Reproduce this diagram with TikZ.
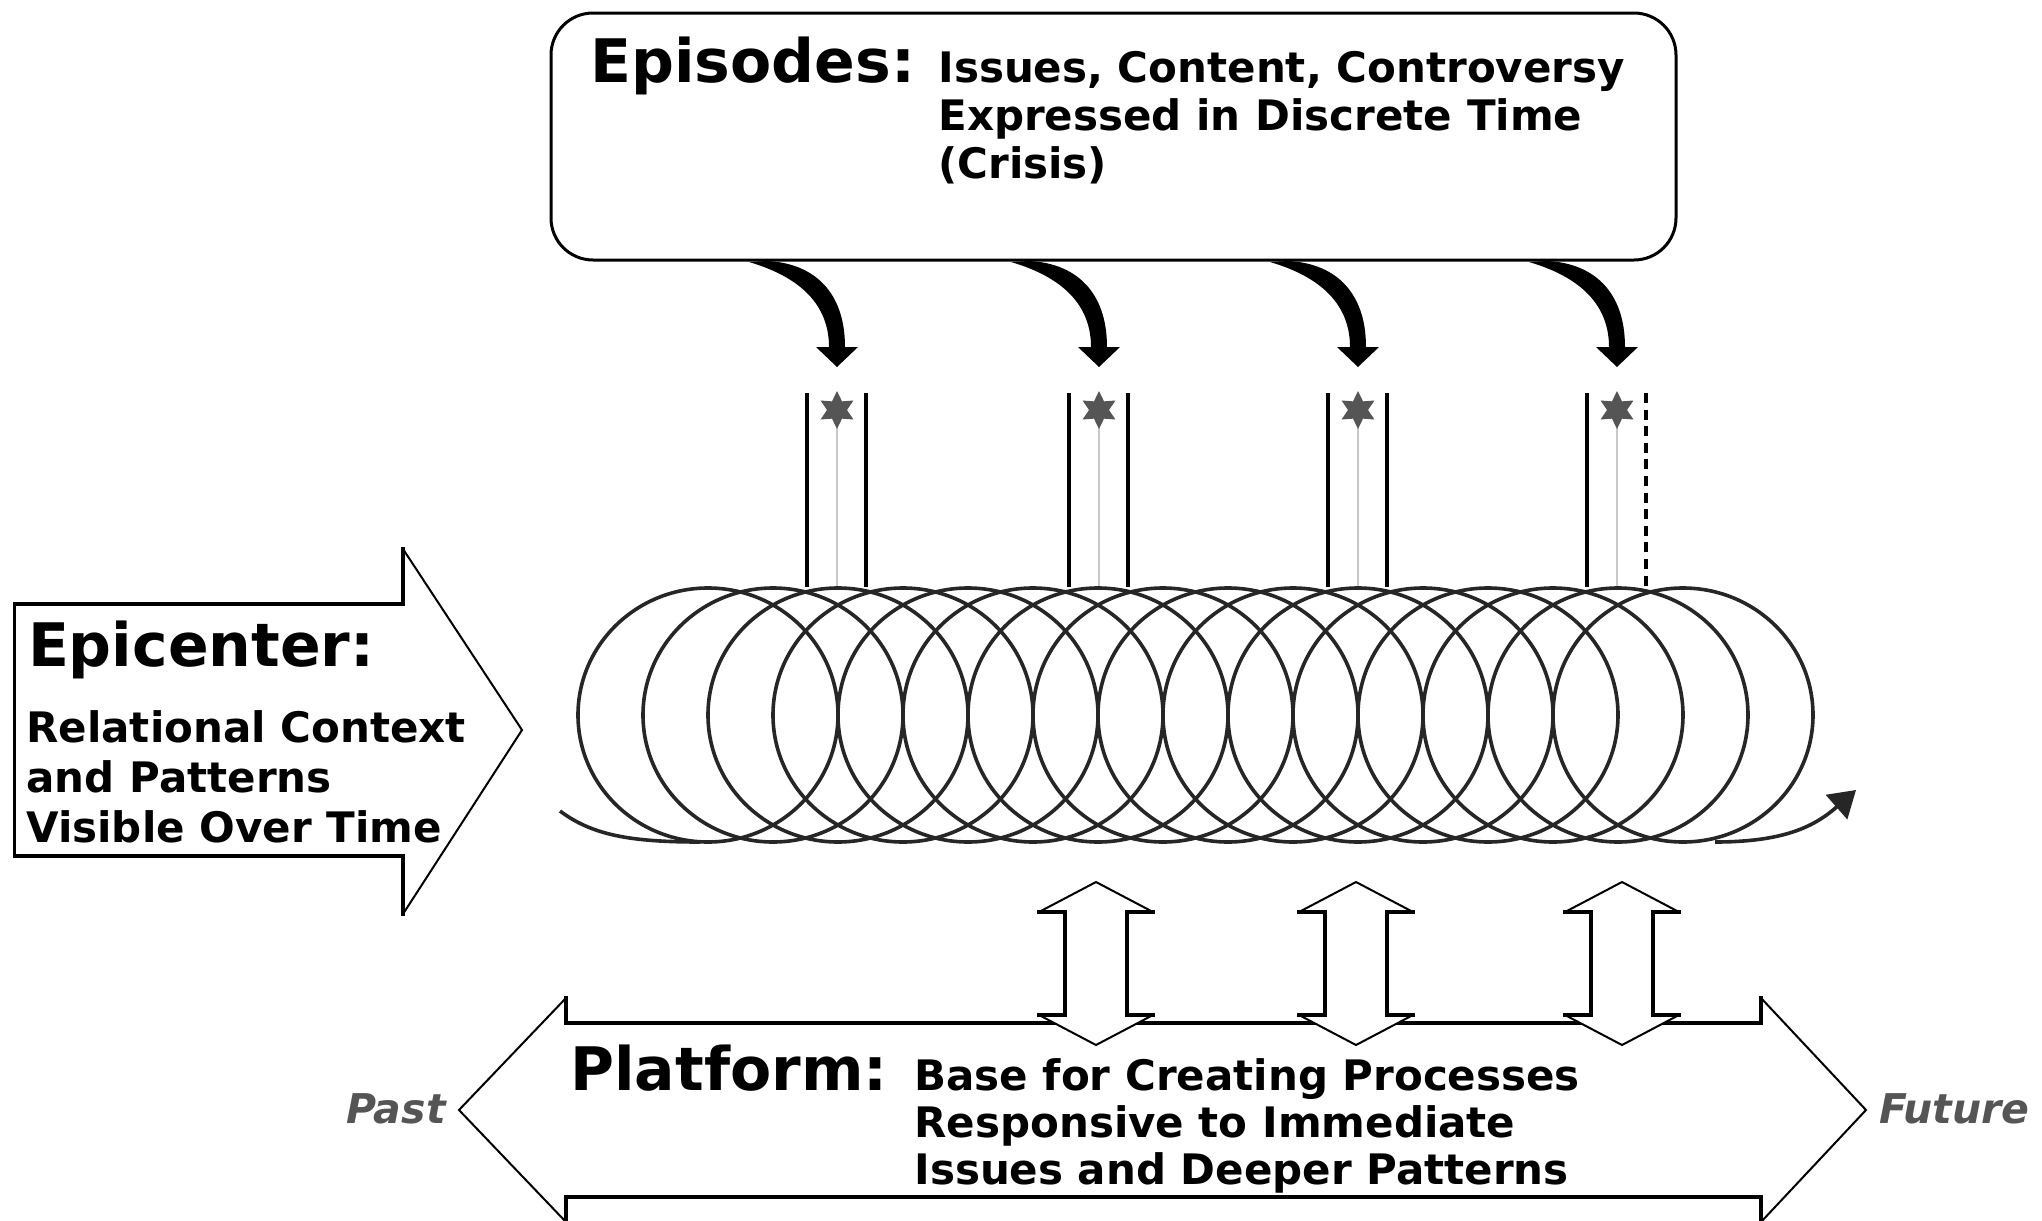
\documentclass[tikz,border=0pt]{standalone}
\usepackage{fontspec}
\setmainfont{DejaVu Sans}
\usetikzlibrary{shapes.geometric,arrows.meta,calc}
\definecolor{stargray}{RGB}{85,85,85}
\definecolor{lightline}{RGB}{200,200,200}
\definecolor{labelgray}{RGB}{85,85,85}
\begin{document}
\begin{tikzpicture}[x=0.5pt,y=-0.5pt,
  thickedge/.style={draw=black,line width=1.6pt,line join=miter,line cap=rect},
  thinedge/.style={draw=black,line width=1pt},
  headfont/.style={font=\fontsize{30pt}{36pt}\selectfont\bfseries},
  txt/.style={inner sep=0pt, anchor=base west, align=left},
  coil/.style={draw=black!85, line width=1.8pt},
  column/.style={draw=black, line width=1.6pt},
  midline/.style={draw=lightline, line width=1.3pt},
  spark/.style={star, star points=6, star point ratio=1.9, fill=stargray, draw=none, minimum size=19pt, inner sep=0pt},
  timefont/.style={font=\fontsize{20.5pt}{24pt}\selectfont\bfseries\itshape, text=labelgray, inner sep=0pt},
]
\useasboundingbox (0,0) rectangle (2042,1221);

% ---------- Episodes box ----------
\node[draw, line width=1.5pt, rounded corners=21pt, minimum width=562.5pt,
      minimum height=123.5pt, inner sep=0pt] (episodes) at (1113.5,136.5) {};
\node[txt, headfont] (eptitle) at (590,82) {Episodes:};
% base anchor of a multi-line node = baseline of its last line
\node[txt, font=\fontsize{21pt}{24pt}\selectfont\bfseries] (eptext) at (938,178)
  {Issues, Content, Controversy\\Expressed in Discrete Time\\(Crisis)};

% ---------- curved arrows, columns, sparks ----------
\foreach \T/\n in {837/1,1099/2,1358/3,1617/4}{
  \begin{scope}[shift={(\T,0)}]
    \fill (-70,261) .. controls (-25,263) and (8,290) .. (8,347)
       -- (21,347) -- (0,367) -- (-21,347) -- (-8,347)
       .. controls (-8,310) and (-30,279) .. (-88,262) -- cycle;
  \end{scope}
  \coordinate (top\n) at (\T,420);
  \coordinate (bot\n) at (\T,587);
  \draw[midline] (top\n) -- (bot\n);
  \node[spark] (s\n) at (\T,410) {};
  \draw[column] (\T-30,393) -- (\T-30,587);
}
\foreach \T in {837,1099,1358}{
  \draw[column] (\T+29,393) -- (\T+29,587);
}
\draw[column, dash pattern=on 5pt off 3.3pt] (1646,393) -- (1646,587);

% ---------- coil ----------
\foreach \k in {0,...,15}{
  \draw[coil] (708+65*\k,715) ellipse [x radius=65pt, y radius=63.5pt];
}
\draw[coil] (560,811) .. controls (592,835) and (630,842) .. (700,842);
\draw[coil, -{Triangle[length=13pt,width=16pt]}] (1715,842) .. controls (1785,842) and (1815,826) .. (1856,790);

% ---------- Epicenter arrow ----------
\path[fill=white] (14.5,604) -- (403,604) -- (403,549) -- (522,730) -- (403,914) -- (403,856) -- (14.5,856) -- cycle;
\draw[thickedge] (403,549) -- (403,604) -- (14.5,604) -- (14.5,856) -- (403,856) -- (403,914);
\draw[thinedge] (403,549) -- (522,730) -- (403,914);
\node[txt, headfont] (ectitle) at (27.6,666) {Epicenter:};
\node[txt, font=\fontsize{21pt}{25pt}\selectfont\bfseries] (ectext) at (26,842)
  {Relational Context\\and Patterns\\Visible Over Time};

% ---------- Platform double arrow ----------
\path[fill=white] (459,1110) -- (566,998) -- (566,1023) -- (1761,1023) -- (1761,998) -- (1866,1110)
   -- (1761,1222) -- (1761,1197) -- (566,1197) -- (566,1222) -- cycle;
\draw[thickedge] (566,998) -- (566,1023) -- (1761,1023) -- (1761,998);
\draw[thickedge] (566,1222) -- (566,1197) -- (1761,1197) -- (1761,1222);
\draw[thinedge] (566,998) -- (459,1110) -- (566,1222);
\draw[thinedge] (1761,998) -- (1866,1110) -- (1761,1222);
\node[txt, headfont] (pltitle) at (570,1090) {Platform:};
\node[txt, font=\fontsize{21pt}{23.5pt}\selectfont\bfseries] (pltext) at (914,1184)
  {Base for Creating Processes\\Responsive to Immediate\\Issues and Deeper Patterns};
\node[timefont, anchor=base east] (past) at (446,1123) {Past};
\node[timefont, anchor=base west] (future) at (1879,1123) {Future};

% ---------- double vertical arrows ----------
\foreach \C/\n in {1096/1,1356/2,1622/3}{
  \begin{scope}[shift={(\C,0)}]
    \path[fill=white] (0,882) -- (57,912) -- (31,912) -- (31,1015) -- (57,1015) -- (0,1045)
       -- (-57,1015) -- (-31,1015) -- (-31,912) -- (-57,912) -- cycle;
    \draw[thickedge] (57,912) -- (31,912) -- (31,1015) -- (57,1015);
    \draw[thickedge] (-57,912) -- (-31,912) -- (-31,1015) -- (-57,1015);
    \draw[thinedge] (-57,912) -- (0,882) -- (57,912);
    \draw[thinedge] (-57,1015) -- (0,1045) -- (57,1015);
  \end{scope}
  \coordinate (dv\n) at (\C,963);
}
\end{tikzpicture}
\end{document}
